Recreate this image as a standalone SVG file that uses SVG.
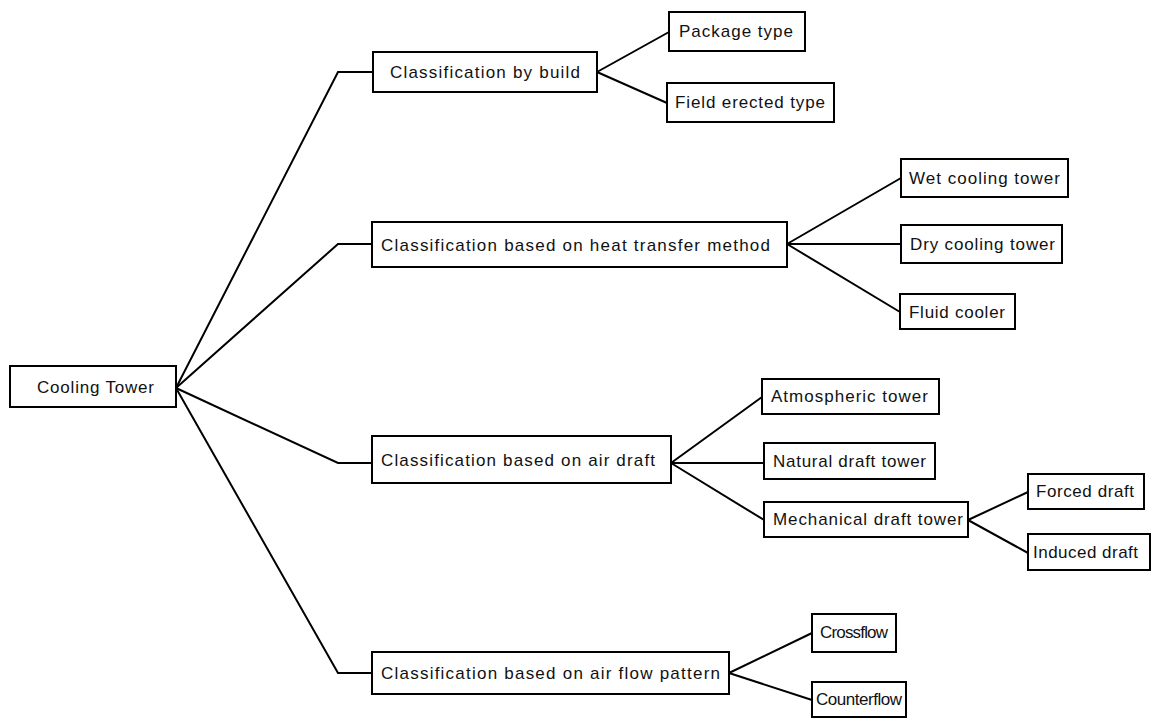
<svg xmlns="http://www.w3.org/2000/svg" width="1151" height="718" viewBox="0 0 1151 718">
<style>
rect{fill:#fff;stroke:#000;stroke-width:2}
text{font-family:"Liberation Sans",Arial,sans-serif;font-size:17px;fill:#111}
#connectors path{fill:none;stroke:#000;stroke-width:2}
</style>
<rect x="0" y="0" width="1151" height="718" style="stroke:none"/>
<g id="connectors">
<path d="M176,388 L338,72 L373,72"/>
<path d="M176,388 L338,244 L372,244"/>
<path d="M176,388 L338,463 L372,463"/>
<path d="M176,388 L338,673 L372,673"/>
<path d="M597,72 L669,32 M597,72 L667,103"/>
<path d="M787,244 L901,178 M787,244 L901,244 M787,244 L900,312"/>
<path d="M671,463 L762,397 M671,463 L764,463 M671,463 L764,520"/>
<path d="M968,520 L1028,492 M968,520 L1028,553"/>
<path d="M729,673 L812,633 M729,673 L812,700"/>
</g>
<g id="n-root"><rect x="10" y="366" width="166" height="41"/><text x="37" y="393" textLength="117" lengthAdjust="spacing">Cooling Tower</text></g>
<g id="n-build"><rect x="373" y="52" width="224" height="40"/><text x="390" y="78" textLength="190" lengthAdjust="spacing">Classification by build</text></g>
<g id="n-package"><rect x="669" y="12" width="136" height="39"/><text x="679" y="37" textLength="114" lengthAdjust="spacing">Package type</text></g>
<g id="n-field"><rect x="667" y="83" width="167" height="39"/><text x="675" y="108" textLength="150" lengthAdjust="spacing">Field erected type</text></g>
<g id="n-heat"><rect x="372" y="222" width="415" height="45"/><text x="381" y="251" textLength="389" lengthAdjust="spacing">Classification based on heat transfer method</text></g>
<g id="n-wet"><rect x="901" y="159" width="167" height="38"/><text x="909" y="184" textLength="151" lengthAdjust="spacing">Wet cooling tower</text></g>
<g id="n-dry"><rect x="901" y="225" width="161" height="38"/><text x="910" y="250" textLength="145" lengthAdjust="spacing">Dry cooling tower</text></g>
<g id="n-fluid"><rect x="900" y="294" width="115" height="35"/><text x="909" y="318" textLength="96" lengthAdjust="spacing">Fluid cooler</text></g>
<g id="n-draft"><rect x="372" y="436" width="299" height="47"/><text x="381" y="466" textLength="274" lengthAdjust="spacing">Classification based on air draft</text></g>
<g id="n-atmo"><rect x="762" y="379" width="177" height="35"/><text x="771" y="402" textLength="157" lengthAdjust="spacing">Atmospheric tower</text></g>
<g id="n-natural"><rect x="764" y="443" width="171" height="36"/><text x="773" y="467" textLength="153" lengthAdjust="spacing">Natural draft tower</text></g>
<g id="n-mech"><rect x="764" y="502" width="204" height="35"/><text x="773" y="525" textLength="190" lengthAdjust="spacing">Mechanical draft tower</text></g>
<g id="n-forced"><rect x="1028" y="474" width="116" height="35"/><text x="1036" y="497" textLength="98" lengthAdjust="spacing">Forced draft</text></g>
<g id="n-induced"><rect x="1028" y="534" width="122" height="36"/><text x="1033" y="558" textLength="105" lengthAdjust="spacing">Induced draft</text></g>
<g id="n-flow"><rect x="372" y="652" width="357" height="42"/><text x="381" y="679" textLength="339" lengthAdjust="spacing">Classification based on air flow pattern</text></g>
<g id="n-cross"><rect x="812" y="614" width="84" height="38"/><text x="820" y="638" textLength="68" lengthAdjust="spacing">Crossflow</text></g>
<g id="n-counter"><rect x="812" y="682" width="94" height="35"/><text x="816" y="705" textLength="86" lengthAdjust="spacing">Counterflow</text></g>
</svg>
